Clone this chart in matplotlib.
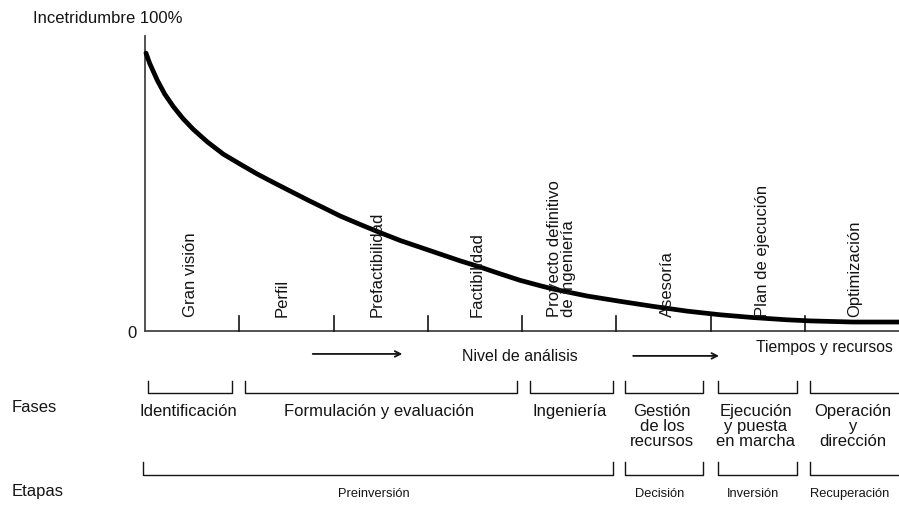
import numpy as np
import matplotlib
matplotlib.use('Agg')
import matplotlib.pyplot as plt

plt.rcParams['font.family'] = ['Liberation Sans', 'DejaVu Sans']

# Curve (x in stage units, y in % uncertainty)
curve_x = np.array([0.01, 0.05, 0.13, 0.21, 0.30, 0.40, 0.51, 0.66, 0.83,
                    1.01, 1.19, 1.36, 1.54, 1.75, 1.86, 2.07, 2.28, 2.49,
                    2.71, 2.92, 3.13, 3.34, 3.55, 3.77, 3.98, 4.19, 4.33,
                    4.69, 5.04, 5.39, 5.75, 6.10, 6.45, 6.81, 7.06, 7.51,
                    8.0])
curve_y = np.array([99.3, 95.6, 89.6, 84.6, 80.2, 76.0, 72.1, 67.6, 63.2,
                    59.6, 56.1, 53.1, 50.0, 46.4, 44.6, 41.1, 38.1, 35.2,
                    32.3, 29.9, 27.5, 25.1, 22.9, 20.4, 18.1, 16.2, 15.0,
                    12.5, 10.6, 8.8, 7.1, 5.8, 4.8, 4.0, 3.6, 3.2, 3.2])

# Activities (rotated labels) and their centres
activities = ['Gran visión', 'Perfil', 'Prefactibilidad', 'Factibilidad',
              'Proyecto definitivo\nde ingeniería', 'Asesoría',
              'Plan de ejecución', 'Optimización']
activity_x = [0.48, 1.46, 2.46, 3.52, 4.42, 5.54, 6.55, 7.53]
boundaries = [1, 2, 3, 4, 5, 6, 7]

# Phases
phases = ['Identificación', 'Formulación y evaluación', 'Ingeniería',
          'Gestión\nde los\nrecursos', 'Ejecución\ny puesta\nen marcha',
          'Operación\ny\ndirección']
phase_start = [0.03, 1.06, 4.08, 5.09, 6.08, 7.06]
phase_end = [0.92, 3.95, 4.97, 5.92, 6.92, 8.10]

# Stages
stages = ['Preinversión', 'Decisión', 'Inversión', 'Recuperación']
stage_start = [-0.02, 5.09, 6.08, 7.06]
stage_end = [4.97, 5.92, 6.92, 8.10]

fig = plt.figure(figsize=(8.99, 5.06), dpi=100)
ax = fig.add_axes([0.1613, 0.3439, 0.8387, 0.583])
ax.set_xlim(0, 8)
ax.set_ylim(0, 105.4)
ax.axis('off')

ink = '#141414'
# axes lines
ax.plot([0, 0], [0, 105.4], color='#444444', lw=1.3, clip_on=False)
ax.plot([0, 8], [0, 0], color='#444444', lw=1.3, clip_on=False)
for b in boundaries:
    ax.plot([b, b], [0, 5.4], color=ink, lw=1.2, clip_on=False)

# curve
ax.plot(curve_x, curve_y, color='black', lw=3.4, solid_capstyle='round',
        solid_joinstyle='round', clip_on=False)

ax.text(-1.19, 112.1, 'Incetridumbre 100%', fontsize=12, ha='left',
        va='center', color=ink)
ax.text(-0.09, -0.4, '0', fontsize=12, ha='right', va='center', color=ink)

for name, x in zip(activities, activity_x):
    ax.text(x, 5.2, name, rotation=90, fontsize=12, ha='center',
            va='bottom', color=ink, linespacing=0.85, multialignment='left')

# arrows and axis captions
ax.annotate('', xy=(2.76, -8.2), xytext=(1.75, -8.2),
            arrowprops=dict(arrowstyle='->', color=ink, lw=1.3),
            annotation_clip=False)
ax.annotate('', xy=(6.12, -8.9), xytext=(5.15, -8.9),
            arrowprops=dict(arrowstyle='->', color=ink, lw=1.3),
            annotation_clip=False)
ax.text(3.98, -8.9, 'Nivel de análisis', fontsize=11.5, ha='center',
        va='center', color=ink)
ax.text(6.48, -5.4, 'Tiempos y recursos', fontsize=11.3, ha='left',
        va='center', color=ink, clip_on=False)


def bracket(x0, x1, top, bottom):
    ax.plot([x0, x0, x1, x1], [top, bottom, bottom, top], color=ink,
            lw=1.0, clip_on=False)


for name, x0, x1 in zip(phases, phase_start, phase_end):
    bracket(x0, x1, -17.9, -22.1)
    ax.text((x0 + min(x1, 8.0)) / 2 - 0.02, -25.6, name, fontsize=12,
            ha='center', va='top', color=ink, linespacing=1.02)

for name, x0, x1 in zip(stages, stage_start, stage_end):
    bracket(x0, x1, -46.8, -51.4)
    ax.text((x0 + min(x1, 8.0)) / 2 - 0.05, -57.9, name, fontsize=9.3,
            ha='center', va='center', color=ink)

ax.text(-1.41, -27.1, 'Fases', fontsize=12, ha='left', va='center',
        color=ink)
ax.text(-1.41, -57.1, 'Etapas', fontsize=12, ha='left', va='center',
        color=ink)

fig.savefig('out.png', dpi=100)
